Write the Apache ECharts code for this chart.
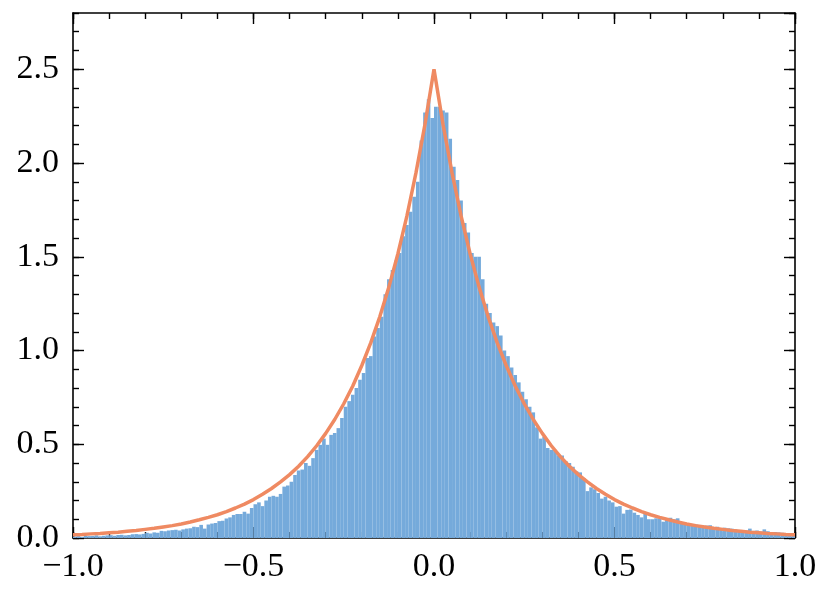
<!DOCTYPE html>
<html>
<head>
<meta charset="utf-8">
<script src="https://cdn.jsdelivr.net/npm/echarts@6/dist/echarts.min.js"></script>
<style>
  html, body { margin: 0; padding: 0; background: #fff; }
  #chart { width: 831px; height: 599px; }
</style>
</head>
<body>
<div id="chart"></div>
<script>
// histogram: 200 bins of width 0.01 from -1 to 1 (density)
const binStart = -1;
const binWidth = 0.01;
const binHeights = [
  0.008, 0.010, 0.006, 0.012, 0.010, 0.011, 0.014, 0.009, 0.012, 0.014,
  0.015, 0.012, 0.016, 0.017, 0.014, 0.016, 0.020, 0.021, 0.019, 0.022,
  0.028, 0.024, 0.030, 0.028, 0.038, 0.036, 0.040, 0.042, 0.044, 0.040,
  0.046, 0.050, 0.052, 0.060, 0.058, 0.070, 0.050, 0.072, 0.077, 0.080,
  0.090, 0.092, 0.104, 0.110, 0.123, 0.128, 0.128, 0.140, 0.130, 0.160,
  0.180, 0.190, 0.170, 0.200, 0.220, 0.225, 0.220, 0.235, 0.274, 0.280,
  0.300, 0.336, 0.360, 0.365, 0.400, 0.385, 0.426, 0.470, 0.497, 0.530,
  0.497, 0.550, 0.560, 0.586, 0.640, 0.700, 0.730, 0.764, 0.800, 0.844,
  0.880, 0.960, 0.970, 1.075, 1.120, 1.180, 1.300, 1.380, 1.430, 1.480,
  1.520, 1.610, 1.670, 1.740, 1.820, 1.900, 2.120, 2.270, 2.340, 2.240,
  2.300, 2.300, 2.280, 2.270, 2.130, 1.980, 1.910, 1.800, 1.680, 1.630,
  1.520, 1.500, 1.500, 1.380, 1.250, 1.200, 1.150, 1.130, 1.080, 1.000,
  0.970, 0.910, 0.870, 0.830, 0.780, 0.740, 0.700, 0.670, 0.590, 0.530,
  0.540, 0.480, 0.470, 0.470, 0.440, 0.440, 0.410, 0.400, 0.380, 0.355,
  0.350, 0.320, 0.250, 0.270, 0.260, 0.240, 0.210, 0.220, 0.200, 0.190,
  0.167, 0.170, 0.130, 0.150, 0.152, 0.135, 0.123, 0.110, 0.130, 0.100,
  0.100, 0.105, 0.105, 0.087, 0.096, 0.108, 0.100, 0.105, 0.080, 0.078,
  0.070, 0.070, 0.073, 0.060, 0.064, 0.066, 0.068, 0.051, 0.060, 0.050,
  0.055, 0.052, 0.050, 0.046, 0.042, 0.042, 0.040, 0.050, 0.038, 0.040,
  0.034, 0.046, 0.036, 0.030, 0.032, 0.030, 0.028, 0.018, 0.015, 0.012
];

// density curve
const curveX = [
  -1.0, -0.975, -0.95, -0.925, -0.9, -0.875, -0.85, -0.825, -0.8, -0.775,
  -0.75, -0.725, -0.7, -0.675, -0.65, -0.625, -0.6, -0.575, -0.55, -0.525,
  -0.5, -0.475, -0.45, -0.425, -0.4, -0.375, -0.35, -0.325, -0.3, -0.275,
  -0.25, -0.225, -0.2, -0.175, -0.15, -0.125, -0.1, -0.075, -0.05, -0.025,
  0.0,
  0.025, 0.05, 0.075, 0.1, 0.125, 0.15, 0.175, 0.2, 0.225, 0.25,
  0.275, 0.3, 0.325, 0.35, 0.375, 0.4, 0.425, 0.45, 0.475, 0.5,
  0.525, 0.55, 0.575, 0.6, 0.625, 0.65, 0.675, 0.7, 0.725, 0.75,
  0.775, 0.8, 0.825, 0.85, 0.875, 0.9, 0.925, 0.95, 0.975, 1.0
];
const curveY = [
  0.017, 0.019, 0.022, 0.024, 0.028, 0.031, 0.036, 0.040, 0.046, 0.052,
  0.059, 0.066, 0.075, 0.085, 0.097, 0.110, 0.124, 0.141, 0.160, 0.181,
  0.205, 0.233, 0.264, 0.299, 0.338, 0.383, 0.434, 0.492, 0.558, 0.632,
  0.716, 0.811, 0.920, 1.042, 1.181, 1.338, 1.516, 1.718, 1.947, 2.206,
  2.500,
  2.206, 1.947, 1.718, 1.516, 1.338, 1.181, 1.042, 0.920, 0.811, 0.716,
  0.632, 0.558, 0.492, 0.434, 0.383, 0.338, 0.299, 0.264, 0.233, 0.205,
  0.181, 0.160, 0.141, 0.124, 0.110, 0.097, 0.085, 0.075, 0.066, 0.059,
  0.052, 0.046, 0.040, 0.036, 0.031, 0.028, 0.024, 0.022, 0.019, 0.017
];

const xMin = -1, xMax = 1, xMajor = 0.5, xMinor = 0.1;
const yMin = 0, yMax = 2.8, yMajor = 0.5, yMinor = 0.1;

const histColor = '#75aadb';
const curveColor = '#ef8a62';
const fontFamily = '"Liberation Serif", "DejaVu Serif", serif';

const histData = binHeights.map((h, i) => [binStart + i * binWidth, binStart + (i + 1) * binWidth, h]);
const curveData = curveX.map((x, i) => [x, curveY[i]]);

function fmt(v) {
  return v.toFixed(1).replace('-', '\u2212');
}

// one axis per side for the major ticks (with frame line), one for the minor ticks
function xAx(position, interval, len, label, line) {
  return {
    type: 'value', position: position, min: xMin, max: xMax, interval: interval,
    axisLine: { show: line, onZero: false, lineStyle: { color: '#000', width: 1.6 } },
    axisTick: { show: true, inside: true, length: len, lineStyle: { color: '#000', width: 1.4 } },
    axisLabel: {
      show: label, formatter: fmt, color: '#000', fontFamily: fontFamily, fontSize: 34,
      margin: 12, showMinLabel: true, showMaxLabel: true
    },
    splitLine: { show: false }
  };
}
function yAx(position, interval, len, label, line) {
  return {
    type: 'value', position: position, min: yMin, max: yMax, interval: interval,
    axisLine: { show: line, onZero: false, lineStyle: { color: '#000', width: 1.6 } },
    axisTick: { show: true, inside: true, length: len, lineStyle: { color: '#000', width: 1.4 } },
    axisLabel: {
      show: label, formatter: fmt, color: '#000', fontFamily: fontFamily, fontSize: 34,
      margin: 14, showMaxLabel: false, padding: [4, 0, 0, 0]
    },
    splitLine: { show: false }
  };
}

const chart = echarts.init(document.getElementById('chart'), null, { renderer: 'canvas' });
chart.setOption({
  animation: false,
  backgroundColor: '#fff',
  grid: { left: 73, right: 36, top: 13, bottom: 61, containLabel: false },
  xAxis: [
    xAx('bottom', xMajor, 11, true, true),
    xAx('bottom', xMinor, 6, false, false),
    xAx('top', xMajor, 11, false, true),
    xAx('top', xMinor, 6, false, false)
  ],
  yAxis: [
    yAx('left', yMajor, 11, true, true),
    yAx('left', yMinor, 6, false, false),
    yAx('right', yMajor, 11, false, true),
    yAx('right', yMinor, 6, false, false)
  ],
  series: [
    {
      type: 'custom',
      xAxisIndex: 0,
      yAxisIndex: 0,
      encode: { x: [0, 1], y: 2 },
      data: histData,
      z: 1,
      renderItem: function (params, api) {
        const p0 = api.coord([api.value(0), api.value(2)]);
        const p1 = api.coord([api.value(1), 0]);
        return {
          type: 'rect',
          shape: { x: p0[0], y: p0[1], width: p1[0] - p0[0], height: p1[1] - p0[1] },
          style: { fill: histColor }
        };
      }
    },
    {
      type: 'line',
      xAxisIndex: 0,
      yAxisIndex: 0,
      data: curveData,
      showSymbol: false,
      smooth: false,
      z: 3,
      lineStyle: { color: curveColor, width: 3.5 },
      itemStyle: { color: curveColor }
    }
  ]
});
</script>
</body>
</html>
